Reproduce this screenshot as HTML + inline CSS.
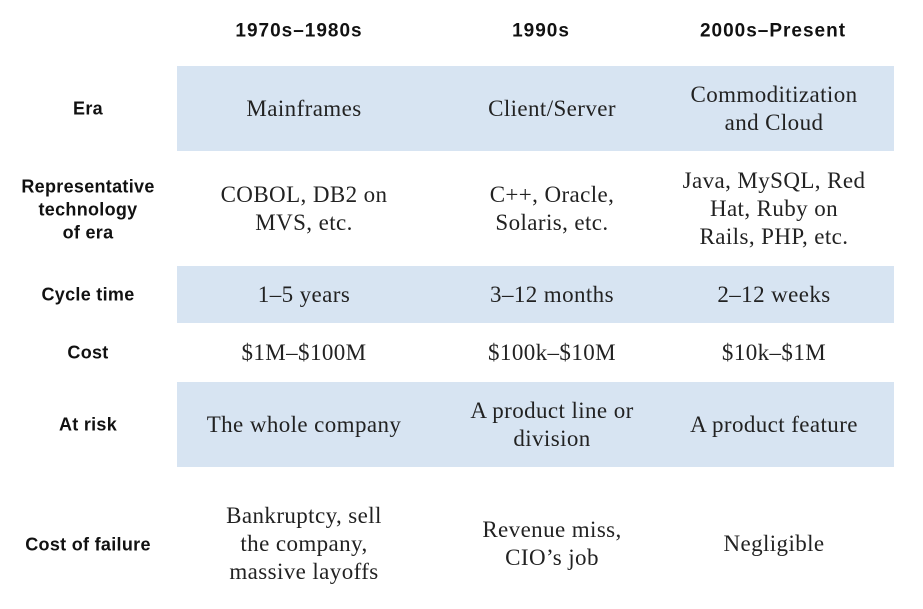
<!DOCTYPE html>
<html><head><meta charset="utf-8"><style>
body{margin:0;width:923px;height:609px;background:#fff;position:relative;overflow:hidden}
.band{position:absolute;left:177px;width:717px;background:#d7e4f2}
.t{position:absolute;text-align:center;transform:translate(-50%,-50%);white-space:nowrap}
.s{font-family:"Liberation Serif",serif;font-size:23px;letter-spacing:0.4px;line-height:28px;color:#222}
.h{font-family:"Liberation Sans",sans-serif;font-weight:bold;font-size:18px;letter-spacing:0.3px;line-height:23px;color:#111}
.hh{font-size:19px;letter-spacing:1px}
</style></head><body>
<div class="band" style="top:66px;height:85px"></div>
<div class="band" style="top:266px;height:57px"></div>
<div class="band" style="top:382px;height:85px"></div>

<div class="t h hh" style="left:299px;top:31px">1970s–1980s</div>
<div class="t h hh" style="left:541px;top:31px">1990s</div>
<div class="t h hh" style="left:773px;top:31px">2000s–Present</div>

<div class="t h" style="left:88px;top:109px">Era</div>
<div class="t h" style="left:88px;top:210px">Representative<br>technology<br>of era</div>
<div class="t h" style="left:88px;top:295px">Cycle time</div>
<div class="t h" style="left:88px;top:353px">Cost</div>
<div class="t h" style="left:88px;top:425px">At risk</div>
<div class="t h" style="left:88px;top:545px">Cost of failure</div>

<div class="t s" style="left:304px;top:109px">Mainframes</div>
<div class="t s" style="left:552px;top:109px">Client/Server</div>
<div class="t s" style="left:774px;top:109px">Commoditization<br>and Cloud</div>

<div class="t s" style="left:304px;top:209px">COBOL, DB2 on<br>MVS, etc.</div>
<div class="t s" style="left:552px;top:209px">C++, Oracle,<br>Solaris, etc.</div>
<div class="t s" style="left:774px;top:209px">Java, MySQL, Red<br>Hat, Ruby on<br>Rails, PHP, etc.</div>

<div class="t s" style="left:304px;top:295px">1–5 years</div>
<div class="t s" style="left:552px;top:295px">3–12 months</div>
<div class="t s" style="left:774px;top:295px">2–12 weeks</div>

<div class="t s" style="left:304px;top:353px">$1M–$100M</div>
<div class="t s" style="left:552px;top:353px">$100k–$10M</div>
<div class="t s" style="left:774px;top:353px">$10k–$1M</div>

<div class="t s" style="left:304px;top:425px">The whole company</div>
<div class="t s" style="left:552px;top:425px">A product line or<br>division</div>
<div class="t s" style="left:774px;top:425px">A product feature</div>

<div class="t s" style="left:304px;top:544px">Bankruptcy, sell<br>the company,<br>massive layoffs</div>
<div class="t s" style="left:552px;top:544px">Revenue miss,<br>CIO’s job</div>
<div class="t s" style="left:774px;top:544px">Negligible</div>
</body></html>
